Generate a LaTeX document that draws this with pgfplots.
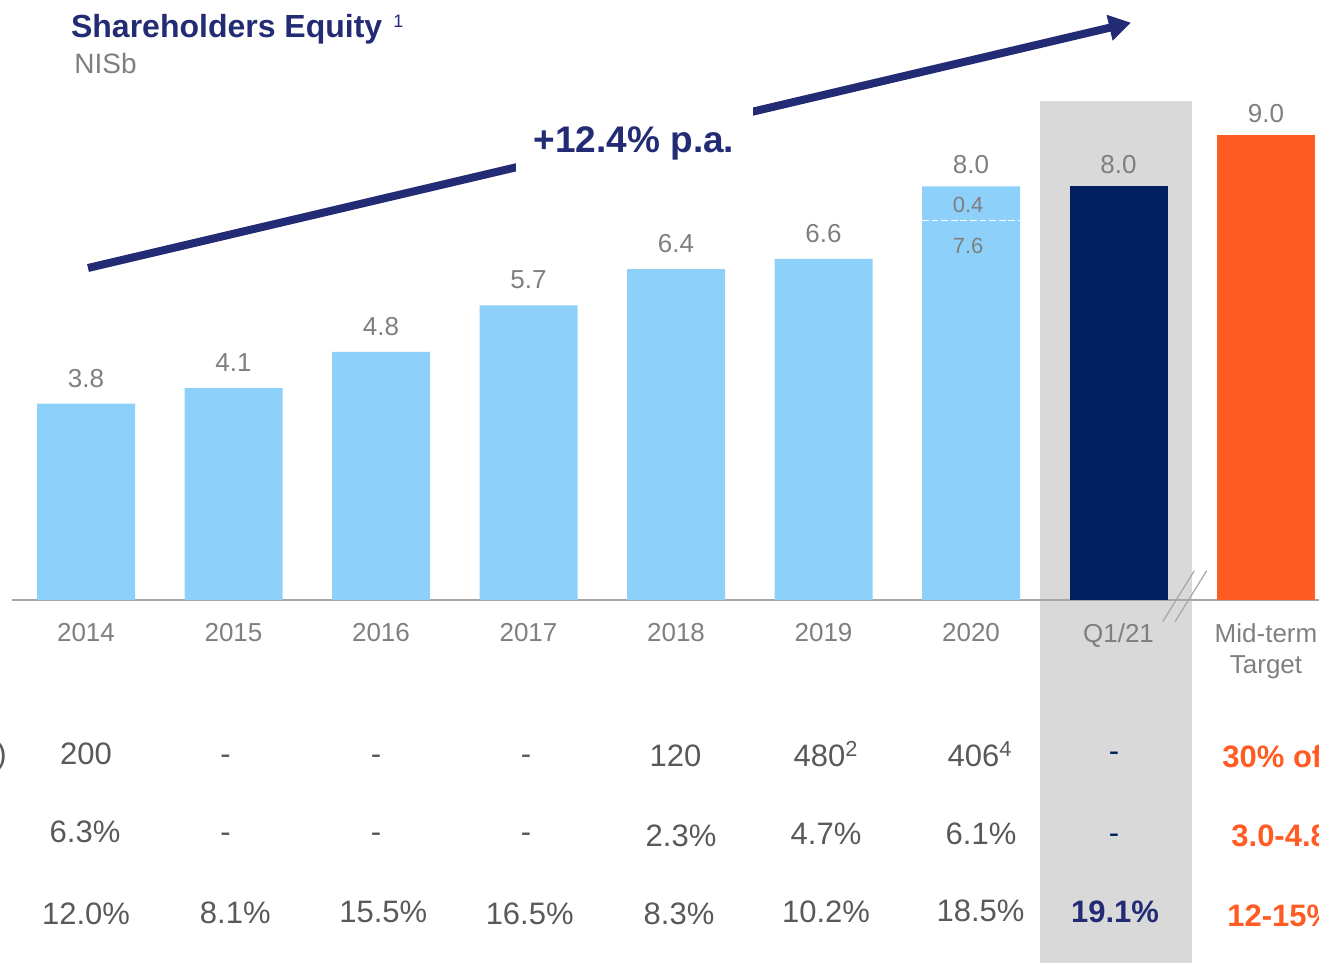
\documentclass[border=0pt]{standalone}
\usepackage{pgfplots}
\pgfplotsset{compat=1.18}
\usepackage{fontspec}
\setmainfont{Liberation Sans}
\usetikzlibrary{arrows.meta}
\definecolor{lblue}{HTML}{8DD1FA}
\definecolor{dnavy}{HTML}{00205F}
\definecolor{tnavy}{HTML}{222B74}
\definecolor{orng}{HTML}{FF5B23}
\definecolor{lgray}{HTML}{7F7F7F}
\definecolor{tgray}{HTML}{595959}
\definecolor{band}{HTML}{D9D9D9}
\definecolor{axgray}{HTML}{A6A6A6}
\begin{document}
\begin{tikzpicture}[x=0.5pt,y=0.5pt,
  lbl/.style={font=\fontsize{13}{15}\selectfont, text=lgray, inner sep=0pt, anchor=base},
  inl/.style={font=\fontsize{11}{13}\selectfont, text=lgray, inner sep=0pt, anchor=base},
  tbl/.style={font=\fontsize{15.5}{18}\selectfont, text=tgray, inner sep=0pt, anchor=base},
  tnv/.style={font=\fontsize{15.5}{18}\selectfont, text=dnavy, inner sep=0pt, anchor=base},
  tor/.style={font=\bfseries\fontsize{15.5}{18}\selectfont, text=orng, inner sep=0pt, anchor=base west}]
\useasboundingbox (0,0) rectangle (1319,963);
\clip (0,0) rectangle (1319,963);
% highlight band behind Q1/21
\fill[band] (1040,0) rectangle (1192,862);
\begin{axis}[
  at={(6pt,181.5pt)}, anchor=south west,
  scale only axis, width=653.5pt, height=258.5pt,
  xmin=-0.5017, xmax=8.3593, ymin=0, ymax=10,
  enlargelimits=false, clip=false,
  axis y line=none, axis x line=bottom,
  x axis line style={-, draw=axgray, line width=1pt},
  xtick={0,1,2,3,4,5,6,7,8},
  xticklabels={2014,2015,2016,2017,2018,2019,2020,Q1/21,{Mid-term\\Target}},
  major tick length=0pt,
  xticklabel style={font=\fontsize{13}{15.5}\selectfont, text=lgray, align=center, yshift=-8.3pt},
  ytick=\empty,
]
\addplot[ybar, bar width=49pt, bar shift=0pt, fill=lblue, draw=none]
  coordinates {(0,3.8) (1,4.1) (2,4.8) (3,5.7) (4,6.4) (5,6.6) (6,8.0)};
\addplot[ybar, bar width=49pt, bar shift=0pt, fill=dnavy, draw=none]
  coordinates {(7,8.0)};
\addplot[ybar, bar width=49pt, bar shift=0pt, fill=orng, draw=none]
  coordinates {(8,9.0)};
% value labels
\node[lbl, yshift=8.2pt] at (axis cs:0,3.8) {3.8};
\node[lbl, yshift=8.2pt] at (axis cs:1,4.1) {4.1};
\node[lbl, yshift=8.2pt] at (axis cs:2,4.8) {4.8};
\node[lbl, yshift=8.2pt] at (axis cs:3,5.7) {5.7};
\node[lbl, yshift=8.2pt] at (axis cs:4,6.4) {6.4};
\node[lbl, yshift=8.2pt] at (axis cs:5,6.6) {6.6};
\node[lbl, yshift=6.2pt] at (axis cs:6,8.0) {8.0};
\node[lbl, yshift=6.2pt] at (axis cs:7,8.0) {8.0};
\node[lbl, yshift=6.2pt] at (axis cs:8,9.0) {9.0};
% split of the 2020 bar
\draw[white, line width=0.8pt, dash pattern=on 3.4pt off 1.4pt]
  ([xshift=-24.5pt]axis cs:6,7.34) -- ([xshift=24.5pt]axis cs:6,7.34);
\node[inl] at (axis cs:5.98,7.49) {0.4};
\node[inl] at (axis cs:5.98,6.71) {7.6};
\end{axis}
% axis break marks
\draw[axgray, line width=0.6pt] (1162.7,341.3) -- (1194.3,392.3);
\draw[axgray, line width=0.6pt] (1175,341.3) -- (1206.7,392.3);
% title
\node[anchor=base west, inner sep=0pt, text=tnavy, font=\bfseries\fontsize{16}{20}\selectfont] at (70.7,925.7) {Shareholders Equity};
\node[anchor=base west, inner sep=0pt, text=tnavy, font=\fontsize{9}{11}\selectfont] at (393,935.7) {1};
\node[anchor=base west, inner sep=0pt, text=lgray, font=\fontsize{14}{17}\selectfont] at (74,889) {NISb};
% growth arrow
\draw[tnavy, line width=4pt, -{Triangle[length=11pt,width=12.5pt]}] (88,695) -- (1131,940.3);
\fill[white] (516,791) rectangle (753,857);
\node[anchor=base, inner sep=0pt, text=tnavy, font=\bfseries\fontsize{18.5}{22}\selectfont] at (634,810) {+12.4\% p.a.};
% table rows
\node[tbl, anchor=base east] at (7,198) {)};
\node[tbl] at (86,198) {200};
\node[tbl] at (225.5,198) {-};
\node[tbl] at (376,198) {-};
\node[tbl] at (526,198) {-};
\node[tbl] at (675.5,196) {120};
\node[tbl] at (826,196) {480\textsuperscript{2}};
\node[tbl] at (980,196.3) {406\textsuperscript{4}};
\node[tnv] at (1114,201) {-};
\node[tor] at (1222,195) {30\% of NI};
\node[tbl] at (85,120.3) {6.3\%};
\node[tbl] at (225.5,120.3) {-};
\node[tbl] at (376,120.3) {-};
\node[tbl] at (526,120.3) {-};
\node[tbl] at (681,116.3) {2.3\%};
\node[tbl] at (826,118) {4.7\%};
\node[tbl] at (981,118) {6.1\%};
\node[tnv] at (1114,119) {-};
\node[tor] at (1231,116.3) {3.0-4.8\%};
\node[tbl] at (86,38) {12.0\%};
\node[tbl] at (235.3,39.7) {8.1\%};
\node[tbl] at (383.3,40) {15.5\%};
\node[tbl] at (529.7,38) {16.5\%};
\node[tbl] at (679,38) {8.3\%};
\node[tbl] at (826,40) {10.2\%};
\node[tbl] at (980.5,41.3) {18.5\%};
\node[anchor=base, inner sep=0pt, text=tnavy, font=\bfseries\fontsize{15.5}{18}\selectfont] at (1115,40.3) {19.1\%};
\node[tor] at (1227,36.3) {12-15\%};
\end{tikzpicture}
\end{document}
